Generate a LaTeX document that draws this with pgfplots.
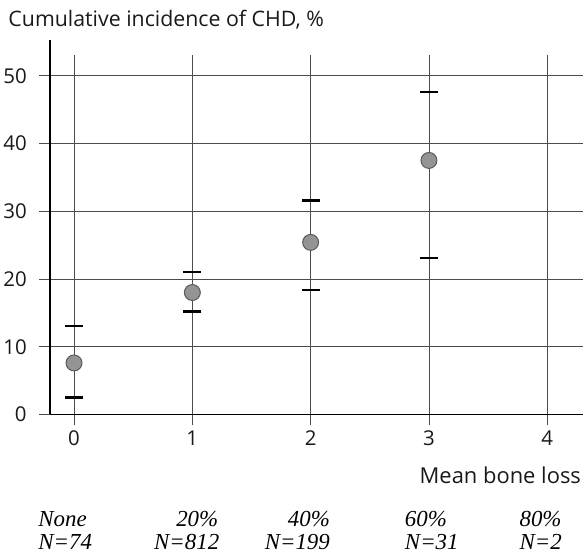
\documentclass[border=0pt]{standalone}
\usepackage{pgfplots}
\pgfplotsset{compat=1.18}
\usepackage{fontspec}
\setmainfont{Open Sans}
\newfontfamily\tnr{Liberation Serif}
\begin{document}
\begin{tikzpicture}[x=1pt,y=1pt]
\begin{axis}[
  scale only axis,
  width=535pt, height=361pt,
  xmin=-0.202, xmax=4.303,
  ymin=0, ymax=53.1,
  axis x line*=bottom, axis y line*=left,
  axis line style={line width=1.8pt, black, -},
  xtick={0,1,2,3,4}, ytick={0,10,20,30,40,50},
  grid=major,
  major grid style={line width=0.9pt, draw=black!70},
  tick align=outside,
  major tick length=11pt,
  tick style={line width=0.9pt, draw=black!70},
  tick label style={font=\fontsize{20.5}{24}\selectfont, text=black!90},
  yticklabel style={xshift=-9pt},
  xticklabel style={yshift=-2pt},
  /pgf/number format/assume math mode=true,
  clip=false,
]
\addplot[
  only marks,
  mark=*, mark size=8pt,
  mark options={fill=black!42, draw=black!65, line width=1pt},
  error bars/.cd,
    y dir=both, y explicit,
    error bar style={line width=0.9pt, draw=black!70},
    error mark options={rotate=90, mark size=9pt, line width=2.4pt, black},
] coordinates {
  (0,7.6)  += (0,5.5)  -= (0,5.1)
  (1,18.0) += (0,3.0)  -= (0,2.8)
  (2,25.4) += (0,6.2)  -= (0,7.0)
  (3,37.5) += (0,10.1) -= (0,14.4)
};
\coordinate (O) at (rel axis cs:0,0);
\coordinate (T) at (rel axis cs:0,1);
\end{axis}
\draw[line width=1.8pt, black] (T) -- ++(0,15pt);
% canvas
\path (O) ++(-49pt,-140pt) rectangle ++(584pt,556pt);
% title
\path (O) ++(-42pt,389pt) node[anchor=base west, inner sep=0pt, text=black!90, font=\fontsize{21.4}{25}\selectfont] {Cumulative incidence of CHD, \%};
% x label
\path (O) ++(533pt,-69pt) node[anchor=base east, inner sep=0pt, text=black!90, font=\fontsize{22}{26}\selectfont] {Mean bone loss};
% bottom categories
\tikzset{cat/.style={inner sep=0pt, font=\tnr\itshape\fontsize{23}{26}\selectfont}}
\path (O) ++(-12pt,-112pt) node[cat, anchor=base west] {None};
\path (O) ++(-12pt,-136pt) node[cat, anchor=base west] {N=74};
\path (O) ++(169pt,-112pt) node[cat, anchor=base east] {20\%};
\path (O) ++(170pt,-136pt) node[cat, anchor=base east] {N=812};
\path (O) ++(281pt,-112pt) node[cat, anchor=base east] {40\%};
\path (O) ++(281pt,-136pt) node[cat, anchor=base east] {N=199};
\path (O) ++(356pt,-112pt) node[cat, anchor=base west] {60\%};
\path (O) ++(356pt,-136pt) node[cat, anchor=base west] {N=31};
\path (O) ++(471pt,-112pt) node[cat, anchor=base west] {80\%};
\path (O) ++(471pt,-136pt) node[cat, anchor=base west] {N=2};
\end{tikzpicture}
\end{document}
